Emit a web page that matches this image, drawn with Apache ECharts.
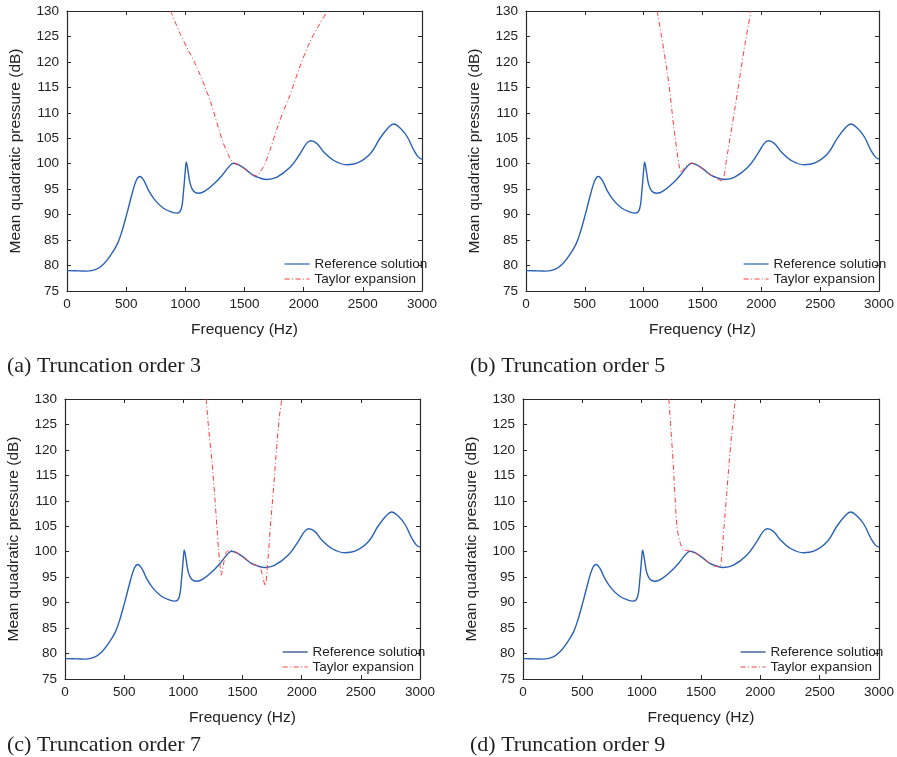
<!DOCTYPE html>
<html>
<head>
<meta charset="utf-8">
<script src="https://cdn.jsdelivr.net/npm/echarts@6/dist/echarts.min.js"></script>
<style>
  html, body { margin: 0; padding: 0; background: #fff; }
  #chart { width: 897px; height: 757px; }
</style>
</head>
<body>
<div id="chart"></div>
<script>
// reference solution (same in all four panels)
const refFreq = [0, 100, 170, 250, 310, 365, 425, 465, 505, 550, 585, 615, 650, 690, 745, 815, 885, 930, 965, 985, 1000, 1008, 1022, 1042, 1070, 1112, 1170, 1240, 1310, 1365, 1408, 1465, 1520, 1575, 1630, 1687, 1770, 1885, 1970, 2025, 2060, 2110, 2170, 2250, 2365, 2450, 2565, 2645, 2720, 2760, 2815, 2875, 2930, 2970, 3000]
const refDb = [79.0, 78.95, 78.9, 79.3, 80.3, 81.9, 84.2, 86.8, 90.1, 94.1, 96.7, 97.5, 96.7, 94.7, 92.8, 91.25, 90.5, 90.3, 91.1, 94.7, 98.7, 100.3, 98.7, 96.0, 94.6, 94.2, 94.7, 96.0, 97.7, 99.3, 100.1, 99.6, 98.7, 97.7, 97.2, 96.9, 97.3, 99.3, 102.0, 104.0, 104.5, 104.0, 102.3, 100.7, 99.8, 100.1, 102.0, 105.0, 107.2, 107.8, 107.0, 105.3, 102.7, 101.3, 100.9]

// Taylor expansion, truncation order 3
const t3Freq = [876, 955, 1025, 1096, 1208, 1312, 1350, 1380, 1408, 1465, 1520, 1575, 1601, 1630, 1673, 1716, 1772, 1828, 1883, 1967, 2052, 2136, 2201]
const t3Db = [130, 125.6, 122.3, 119.0, 112.5, 104.6, 102.4, 101.0, 100.2, 99.6, 98.7, 97.8, 97.6, 98.3, 100.0, 102.7, 106.7, 110.3, 113.4, 119.0, 123.9, 127.5, 130]

// order 5
const t5Freq = [1115, 1158, 1214, 1256, 1299, 1318, 1340, 1370, 1408, 1465, 1520, 1575, 1630, 1665, 1707, 1777, 1862, 1912]
const t5Db = [130, 124.2, 115.7, 107.2, 100.0, 98.2, 99.0, 99.8, 100.1, 99.6, 98.7, 97.7, 97.0, 96.6, 101.3, 111.1, 123.6, 130]

// order 7
const t7Freq = [1193, 1213, 1241, 1264, 1284, 1298, 1312, 1320, 1340, 1363, 1397, 1465, 1520, 1575, 1622, 1650, 1672, 1692, 1707, 1721, 1735, 1763, 1791, 1814, 1833]
const t7Db = [130, 124.4, 117.9, 111.3, 104.8, 100.2, 97.0, 95.4, 97.6, 99.9, 100.3, 99.6, 98.7, 97.7, 97.3, 96.9, 95.0, 93.3, 96.3, 100.2, 104.8, 112.6, 121.1, 127.0, 130]

// order 9
const t9Freq = [1229, 1246, 1265, 1280, 1299, 1322, 1350, 1392, 1465, 1520, 1575, 1630, 1659, 1673, 1693, 1716, 1738, 1758, 1789]
const t9Db = [130, 124.2, 117.7, 111.2, 104.6, 102.0, 100.4, 100.2, 99.6, 98.7, 97.7, 97.1, 97.1, 98.7, 104.6, 111.2, 117.7, 123.0, 130]

const captions = ['(a) Truncation order 3', '(b) Truncation order 5', '(c) Truncation order 7', '(d) Truncation order 9']

const toPairs = (xs, ys) => xs.map((x, i) => [x, ys[i]])
const taylors = [toPairs(t3Freq, t3Db), toPairs(t5Freq, t5Db), toPairs(t7Freq, t7Db), toPairs(t9Freq, t9Db)]
const refData = toPairs(refFreq, refDb)

const blue = '#2a62b5'
const red = '#ff3b3b'
const axisColor = '#2a2a2a'
const sans = 'Liberation Sans, Arial, sans-serif'
const dashDot = [5, 2.5, 1, 2.5]
const noMarker = { color: 'rgba(0,0,0,0)', borderWidth: 0, opacity: 0 }

const panels = [
  { left: 67, top: 11, width: 355, height: 280, capX: 7, capY: 355, legendDark: false },
  { left: 526, top: 11, width: 355, height: 280, capX: 470, capY: 355, legendDark: false },
  { left: 65, top: 399, width: 355, height: 280, capX: 7, capY: 734, legendDark: true },
  { left: 523, top: 399, width: 356, height: 280, capX: 470, capY: 734, legendDark: true }
]

const grid = [], xAxis = [], yAxis = [], series = [], legend = [], title = []

panels.forEach((p, k) => {
  grid.push({ left: p.left, top: p.top, width: p.width, height: p.height, containLabel: false })

  const tick = { show: true, inside: true, length: 4, lineStyle: { color: axisColor, width: 1 } }
  const line = { show: true, onZero: false, lineStyle: { color: axisColor, width: 1.2 } }

  // bottom axis with labels
  xAxis.push({
    type: 'value', gridIndex: k, min: 0, max: 3000, interval: 500, position: 'bottom',
    axisLine: line, axisTick: tick, splitLine: { show: false },
    axisLabel: { margin: 6, fontSize: 13.5, color: '#222', fontFamily: sans, formatter: v => String(v) },
    name: 'Frequency (Hz)', nameLocation: 'middle', nameGap: 31,
    nameTextStyle: { fontSize: 15.5, color: '#222', fontFamily: sans }
  })
  // top mirror
  xAxis.push({
    type: 'value', gridIndex: k, min: 0, max: 3000, interval: 500, position: 'top',
    axisLine: line, axisTick: tick, splitLine: { show: false }, axisLabel: { show: false }
  })
  yAxis.push({
    type: 'value', gridIndex: k, min: 75, max: 130, interval: 5, position: 'left',
    axisLine: line, axisTick: tick, splitLine: { show: false },
    axisLabel: { margin: 8, fontSize: 13.5, color: '#222', fontFamily: sans },
    name: 'Mean quadratic pressure (dB)', nameLocation: 'middle', nameGap: 43, nameRotate: 90,
    nameTextStyle: { fontSize: 15.5, color: '#222', fontFamily: sans }
  })
  yAxis.push({
    type: 'value', gridIndex: k, min: 75, max: 130, interval: 5, position: 'right',
    axisLine: line, axisTick: tick, splitLine: { show: false }, axisLabel: { show: false }
  })

  series.push({
    name: 'Reference solution', type: 'line', xAxisIndex: 2 * k, yAxisIndex: 2 * k,
    data: refData, showSymbol: false, symbol: 'none', smooth: 0.4,
    lineStyle: { color: blue, width: 1.4 }, itemStyle: { color: blue }, z: 3
  })
  series.push({
    name: 'Taylor expansion', type: 'line', xAxisIndex: 2 * k, yAxisIndex: 2 * k,
    data: taylors[k], showSymbol: false, symbol: 'none', smooth: 0.3,
    lineStyle: { color: red, width: 1, type: dashDot }, itemStyle: { color: red }, z: 4
  })

  const refColor = p.legendDark ? '#1b3f80' : blue
  legend.push({
    orient: 'vertical', left: p.left + 217, top: p.top + p.height - 34,
    itemWidth: 25, itemHeight: 10, itemGap: 1, padding: 0,
    selectedMode: false,
    textStyle: { fontSize: 13.5, color: '#222', fontFamily: sans },
    data: [
      { name: 'Reference solution', itemStyle: noMarker, lineStyle: { color: refColor, width: 1.2 } },
      { name: 'Taylor expansion', itemStyle: noMarker, lineStyle: { color: red, width: 1, type: dashDot } }
    ]
  })

  title.push({
    text: captions[k], left: p.capX, top: p.capY, padding: 0,
    textStyle: { fontFamily: 'Liberation Serif, Times New Roman, serif', fontWeight: 'normal', fontSize: 22, color: '#222' }
  })
})

const chart = echarts.init(document.getElementById('chart'), null, { renderer: 'canvas' })
chart.setOption({
  backgroundColor: '#fff',
  animation: false,
  title, grid, xAxis, yAxis, legend, series
})
</script>
</body>
</html>
